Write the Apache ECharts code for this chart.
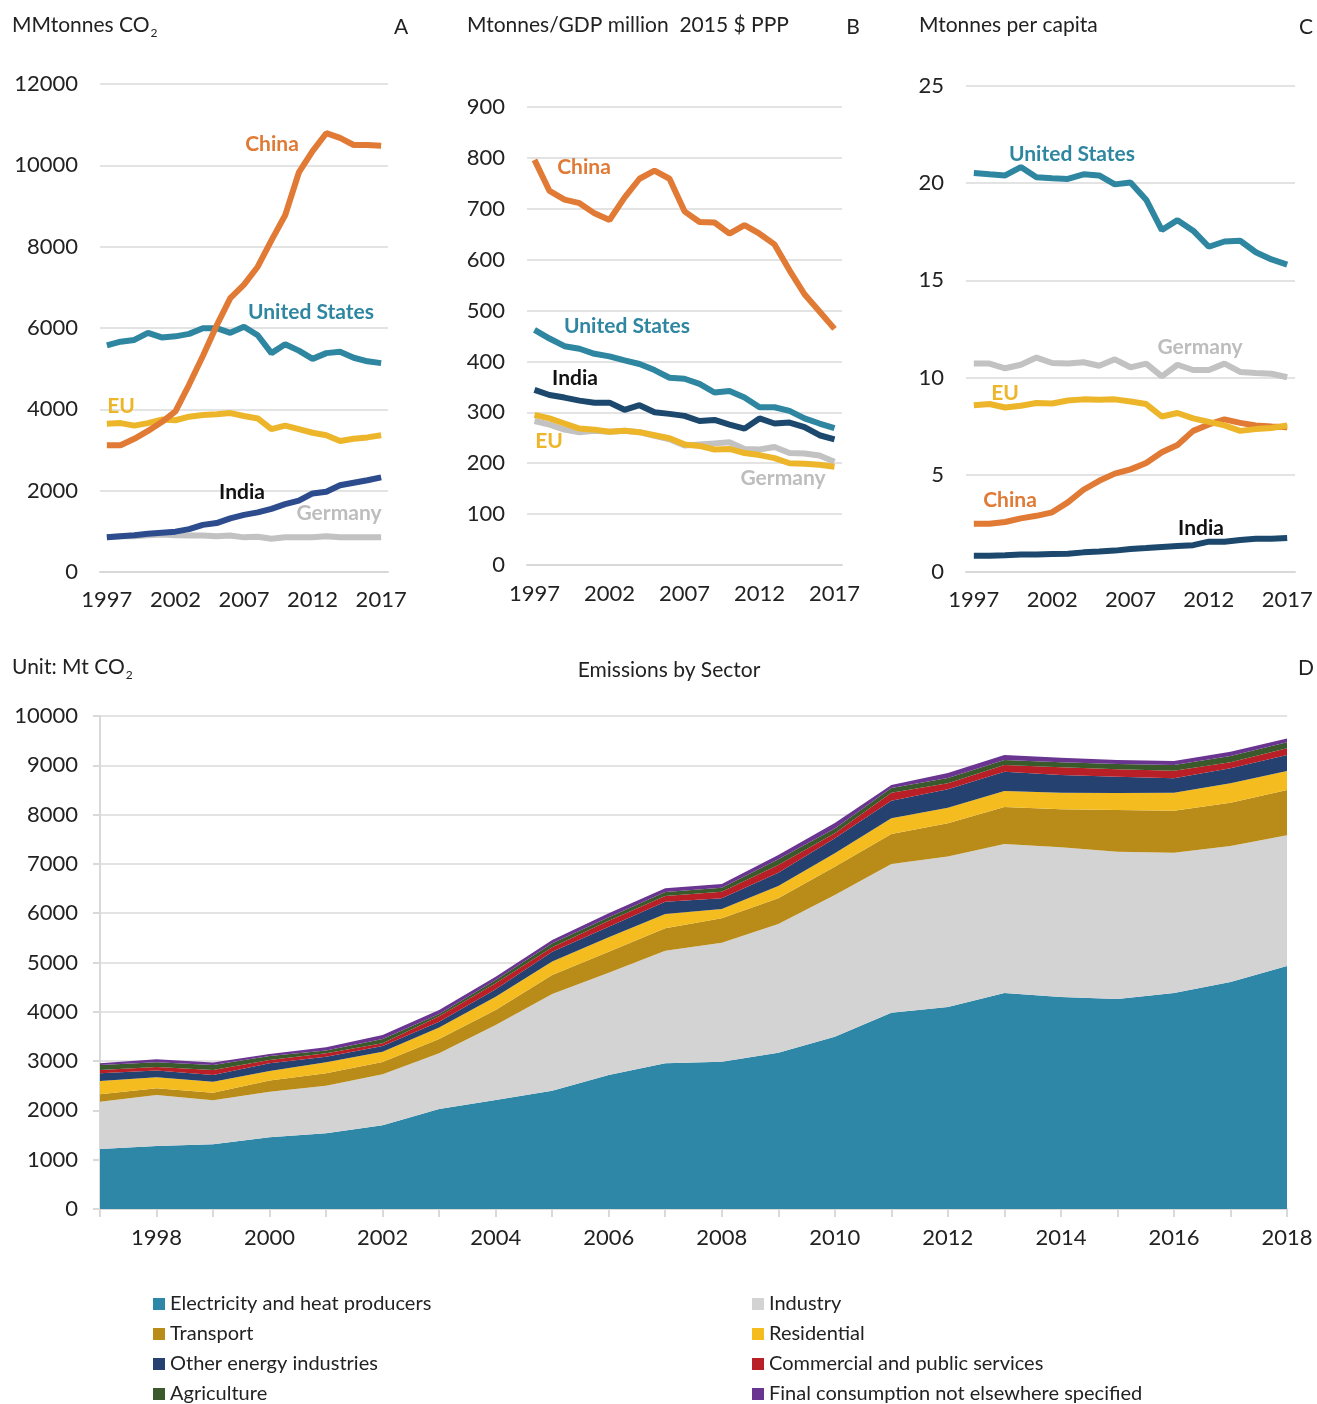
<!DOCTYPE html>
<html>
<head>
<meta charset="utf-8">
<title>CO2 emissions</title>
<script src="https://cdn.jsdelivr.net/npm/echarts@6/dist/echarts.min.js"></script>
<style>
  html, body { margin: 0; padding: 0; background: #fff; }
  #main { width: 1317px; height: 1404px; }
</style>
</head>
<body>
<div id="main"></div>
<script>
// panels A-C: 1997..2017
const years = ['1997','1998','1999','2000','2001','2002','2003','2004','2005','2006','2007',
  '2008','2009','2010','2011','2012','2013','2014','2015','2016','2017'];

// A: total emissions, MMtonnes CO2
const chinaTotal = [3117,3117,3275,3468,3687,3951,4609,5311,6058,6734,7067,7507,8156,8771,9824,10351,10790,10676,10500,10500,10483];
const usTotal = [5575,5663,5707,5882,5768,5795,5856,5996,5996,5882,6032,5821,5382,5601,5443,5241,5382,5417,5268,5180,5136];
const euTotal = [3644,3661,3600,3661,3749,3731,3819,3863,3881,3907,3837,3775,3512,3600,3512,3424,3363,3222,3275,3310,3363];
const indiaTotal = [852,878,904,939,966,992,1054,1159,1203,1317,1405,1466,1554,1668,1756,1932,1975,2133,2195,2256,2327];
const germanyTotal = [852,878,878,904,922,904,896,896,878,896,852,869,817,852,852,852,878,852,852,852,852];

// B: intensity, Mtonnes / GDP million 2015 $ PPP
const chinaIntensity = [796,735,718,711,691,678,722,759,775,759,695,674,673,651,668,651,630,579,532,498,464];
const usIntensity = [462,445,430,425,415,410,402,395,383,368,366,356,339,342,329,310,310,303,288,278,269];
const indiaIntensity = [344,334,329,323,319,319,305,314,300,297,293,283,285,276,268,288,278,280,271,255,247];
const euIntensity = [295,288,278,268,266,262,264,261,255,249,237,234,227,228,220,216,210,200,199,197,193];
const germanyIntensity = [283,276,266,261,264,262,264,261,254,247,235,237,239,241,228,227,232,220,219,215,203];

// C: per capita, Mtonnes
const usPerCap = [20.53,20.46,20.40,20.83,20.31,20.26,20.22,20.46,20.40,19.94,20.04,19.15,17.59,18.10,17.56,16.73,17.00,17.04,16.45,16.08,15.81];
const germanyPerCap = [10.72,10.72,10.48,10.66,11.03,10.75,10.72,10.79,10.61,10.94,10.53,10.72,10.06,10.66,10.39,10.39,10.72,10.29,10.24,10.20,10.02];
const euPerCap = [8.58,8.64,8.46,8.55,8.69,8.67,8.82,8.88,8.86,8.88,8.77,8.64,8.00,8.18,7.90,7.72,7.54,7.26,7.35,7.41,7.54];
const chinaPerCap = [2.48,2.48,2.57,2.76,2.89,3.07,3.58,4.23,4.69,5.06,5.28,5.61,6.16,6.53,7.26,7.59,7.85,7.67,7.54,7.48,7.44];
const indiaPerCap = [0.83,0.83,0.86,0.90,0.90,0.92,0.94,1.01,1.05,1.10,1.18,1.23,1.29,1.34,1.38,1.56,1.56,1.65,1.71,1.71,1.75];

// D: emissions by sector, Mt CO2, 1997..2018
const sectorYears = ['1997','1998','1999','2000','2001','2002','2003','2004','2005','2006','2007',
  '2008','2009','2010','2011','2012','2013','2014','2015','2016','2017','2018'];
const electricity = [1217,1278,1312,1454,1535,1698,2030,2211,2400,2718,2955,2988,3171,3495,3980,4097,4381,4300,4260,4381,4604,4929];
const industry = [960,1034,893,925,966,1034,1130,1521,1961,2075,2285,2414,2610,2874,3020,3053,3023,3036,2988,2847,2759,2651];
const transport = [150,136,155,228,254,250,290,305,385,426,454,495,521,574,606,673,750,771,845,852,879,919];
const residential = [269,223,222,192,221,209,230,270,274,292,290,188,250,272,318,317,325,338,345,365,393,386];
const otherEnergy = [156,138,136,156,114,115,120,149,199,216,249,217,270,304,358,372,392,358,331,291,304,324];
const commercial = [67,71,101,67,68,58,110,122,89,121,116,134,156,101,163,123,135,156,149,155,121,135];
const agriculture = [102,96,102,81,57,82,47,67,81,69,81,81,115,100,95,107,101,101,108,115,129,122];
const finalOther = [34,60,49,41,67,83,78,67,67,81,75,75,88,110,60,102,102,95,81,81,87,80];

const FONT = 'Lato, "Open Sans", sans-serif';
const C = {
  china: '#E07A35', us: '#2E86A1', eu: '#EDB62A', indiaA: '#2D4C8E', india: '#1B486C', germany: '#C2C2C2'
};

const chart = echarts.init(document.getElementById('main'));

const plain = (v) => String(v);

function catAxis(gi, data, margin) {
  return {
    type: 'category', gridIndex: gi, data: data, boundaryGap: true,
    axisLine: { lineStyle: { color: '#d9d9d9', width: 2 } },
    axisTick: { interval: 4, length: 7, lineStyle: { color: '#d9d9d9', width: 2 } },
    axisLabel: { interval: 4, color: '#222', fontSize: 22, fontFamily: FONT, margin: margin }
  };
}
function valAxis(gi, max, interval) {
  return {
    type: 'value', gridIndex: gi, min: 0, max: max, interval: interval,
    axisLine: { show: false }, axisTick: { show: false },
    splitLine: { lineStyle: { color: '#e3e3e3', width: 2 } },
    axisLabel: { color: '#222', fontSize: 22, fontFamily: FONT, margin: 22, formatter: plain }
  };
}
function line(name, gi, data, color) {
  return {
    name: name, type: 'line', xAxisIndex: gi, yAxisIndex: gi, data: data,
    symbol: 'none', lineStyle: { color: color, width: 6 }, itemStyle: { color: color },
    silent: true, z: 3
  };
}
function area(name, data, color) {
  return {
    name: name, type: 'line', xAxisIndex: 3, yAxisIndex: 3, data: data, stack: 'sector',
    symbol: 'none', lineStyle: { width: 0 }, areaStyle: { color: color, opacity: 1 },
    itemStyle: { color: color }
  };
}
function label(text, x, y, color) {
  return {
    type: 'text', x: x, y: y, z: 10,
    style: { text: text, fill: color, font: 'bold 21px ' + FONT, align: 'center', verticalAlign: 'middle' }
  };
}
function head(text, x, y, align) {
  return {
    type: 'text', x: x, y: y, z: 10,
    style: {
      text: text, fill: '#222', font: '21px ' + FONT, align: align || 'left', verticalAlign: 'middle',
      rich: { s: { fontSize: 12, fontFamily: FONT, fill: '#222', padding: [16, 0, 0, 1] } }
    }
  };
}

const sectorColors = {
  'Electricity and heat producers': '#2E87A7',
  'Industry': '#D3D3D3',
  'Transport': '#B98C1A',
  'Residential': '#F4BC1E',
  'Other energy industries': '#25416F',
  'Commercial and public services': '#B81F26',
  'Agriculture': '#3A5A2B',
  'Final consumption not elsewhere specified': '#6A3491'
};
const legendStyle = {
  orient: 'vertical', itemWidth: 12, itemHeight: 12, itemGap: 10, icon: 'rect', height: 200,
  textStyle: { fontSize: 20, color: '#222', fontFamily: FONT },
  selectedMode: false
};

const option = {
  animation: false,
  grid: [
    { left: 100, top: 84, width: 288, height: 488 },
    { left: 527, top: 107, width: 315, height: 458 },
    { left: 966, top: 86, width: 329, height: 486 },
    { left: 100, top: 716, width: 1187, height: 493 }
  ],
  xAxis: [
    catAxis(0, years, 17), catAxis(1, years, 18), catAxis(2, years, 17),
    {
      type: 'category', gridIndex: 3, data: sectorYears, boundaryGap: false,
      axisLine: { lineStyle: { color: '#d9d9d9', width: 2 } },
      axisTick: { interval: 0, length: 8, lineStyle: { color: '#d9d9d9', width: 2 } },
      axisLabel: {
        interval: (i, v) => Number(v) % 2 === 0, color: '#222', fontSize: 22, fontFamily: FONT, margin: 18
      }
    }
  ],
  yAxis: [
    valAxis(0, 12000, 2000), valAxis(1, 900, 100), valAxis(2, 25, 5),
    {
      type: 'value', gridIndex: 3, min: 0, max: 10000, interval: 1000,
      axisLine: { show: true, lineStyle: { color: '#d9d9d9', width: 2 } },
      axisTick: { show: true, length: 7, lineStyle: { color: '#d9d9d9', width: 2 } },
      splitLine: { lineStyle: { color: '#e3e3e3', width: 2 } },
      axisLabel: { color: '#222', fontSize: 22, fontFamily: FONT, margin: 22, formatter: plain }
    }
  ],
  legend: [
    Object.assign({ left: 148, top: 1289, data: ['Electricity and heat producers', 'Transport', 'Other energy industries', 'Agriculture'] }, legendStyle),
    Object.assign({ left: 747, top: 1289, data: ['Industry', 'Residential', 'Commercial and public services', 'Final consumption not elsewhere specified'] }, legendStyle)
  ],
  series: [
    line('Germany', 0, germanyTotal, C.germany),
    line('India', 0, indiaTotal, C.indiaA),
    line('EU', 0, euTotal, C.eu),
    line('United States', 0, usTotal, C.us),
    line('China', 0, chinaTotal, C.china),

    line('Germany', 1, germanyIntensity, C.germany),
    line('EU', 1, euIntensity, C.eu),
    line('India', 1, indiaIntensity, C.india),
    line('United States', 1, usIntensity, C.us),
    line('China', 1, chinaIntensity, C.china),

    line('Germany', 2, germanyPerCap, C.germany),
    line('India', 2, indiaPerCap, C.india),
    line('China', 2, chinaPerCap, C.china),
    line('EU', 2, euPerCap, C.eu),
    line('United States', 2, usPerCap, C.us),

    area('Electricity and heat producers', electricity, sectorColors['Electricity and heat producers']),
    area('Industry', industry, sectorColors['Industry']),
    area('Transport', transport, sectorColors['Transport']),
    area('Residential', residential, sectorColors['Residential']),
    area('Other energy industries', otherEnergy, sectorColors['Other energy industries']),
    area('Commercial and public services', commercial, sectorColors['Commercial and public services']),
    area('Agriculture', agriculture, sectorColors['Agriculture']),
    area('Final consumption not elsewhere specified', finalOther, sectorColors['Final consumption not elsewhere specified'])
  ],
  graphic: [
    head('MMtonnes CO{s|2}', 12, 25),
    head('A', 401, 27, 'center'),
    head('Mtonnes/GDP million  2015 $ PPP', 467, 25),
    head('B', 853, 27, 'center'),
    head('Mtonnes per capita', 919, 25),
    head('C', 1306, 27, 'center'),
    head('Unit: Mt CO{s|2}', 12, 667),
    head('Emissions by Sector', 669, 670, 'center'),
    head('D', 1306, 668, 'center'),

    label('China', 272, 144, C.china),
    label('United States', 311, 312, C.us),
    label('EU', 121, 406, C.eu),
    label('India', 242, 492, '#111'),
    label('Germany', 339, 513, '#BDBDBD'),

    label('China', 584, 167, C.china),
    label('United States', 627, 326, C.us),
    label('India', 575, 378, '#111'),
    label('EU', 549, 441, C.eu),
    label('Germany', 783, 478, '#BDBDBD'),

    label('United States', 1072, 154, C.us),
    label('Germany', 1200, 347, '#BDBDBD'),
    label('EU', 1005, 393, C.eu),
    label('China', 1010, 500, C.china),
    label('India', 1201, 528, '#111')
  ]
};

chart.setOption(option);
window.addEventListener('resize', () => chart.resize());
</script>
</body>
</html>
